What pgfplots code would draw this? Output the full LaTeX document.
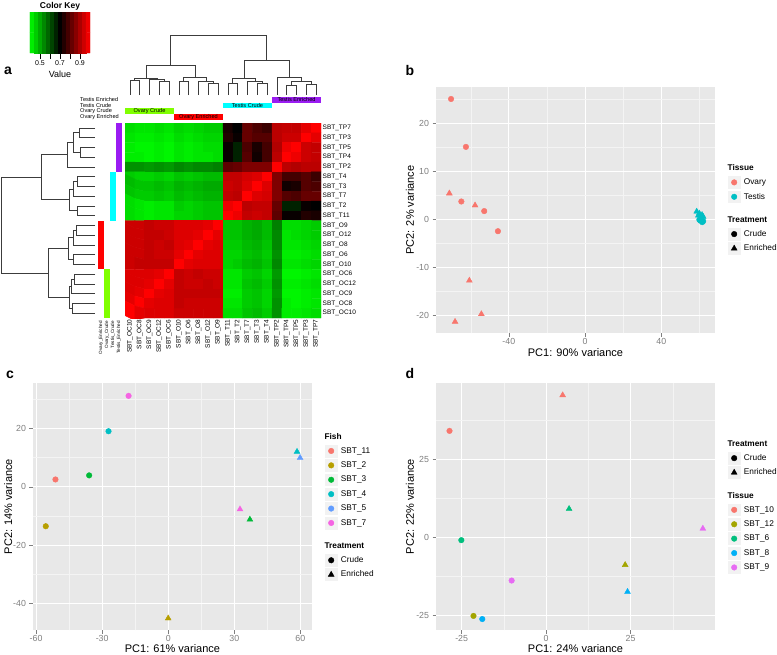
\documentclass[border=0pt]{standalone}
\usepackage{pgfplots}
\pgfplotsset{compat=1.18}
\usepackage{pgfplotstable}
\usepackage{fontspec}
\setmainfont{Liberation Sans}

\definecolor{ggbg}{HTML}{E8E8E8}
\definecolor{ggminor}{HTML}{F4F4F4}
\definecolor{ggtick}{HTML}{7F7F7F}
\definecolor{keybg}{HTML}{F2F2F2}
\definecolor{cA}{HTML}{F8766D}
\definecolor{cB}{HTML}{B79F00}
\definecolor{cC}{HTML}{00BA38}
\definecolor{cD}{HTML}{00BFC4}
\definecolor{cE}{HTML}{619CFF}
\definecolor{cF}{HTML}{F564E3}
\definecolor{dA}{HTML}{F8766D}
\definecolor{dB}{HTML}{A3A500}
\definecolor{dC}{HTML}{00BF7D}
\definecolor{dD}{HTML}{00B0F6}
\definecolor{dE}{HTML}{E76BF3}
\definecolor{hmlime}{HTML}{80FF00}
\definecolor{hmred}{HTML}{FF0000}
\definecolor{hmcyan}{HTML}{00FFFF}
\definecolor{hmpurple}{HTML}{9A1CF2}
\definecolor{dendcol}{HTML}{3C3C3C}

\pgfplotstableread{
h p
0 0
16 0
16 1
0 1
nan nan
0 2
15 2
15 3
0 3
nan nan
16 0.5
22 0.5
22 2.5
15 2.5
nan nan
22 1.5
28 1.5
28 4
0 4
nan nan
0 5
18 5
18 6
0 6
nan nan
18 5.5
22 5.5
22 7
0 7
nan nan
0 8
18 8
18 9
0 9
nan nan
22 6.25
26 6.25
26 8.5
18 8.5
nan nan
28 2.75
54 2.75
54 7.375
26 7.375
nan nan
0 10
19 10
19 11
0 11
nan nan
19 10.5
22 10.5
22 12
0 12
nan nan
0 13
22 13
22 14
0 14
nan nan
22 11.25
27 11.25
27 13.5
22 13.5
nan nan
0 15
21 15
21 16
0 16
nan nan
21 15.5
24 15.5
24 17
0 17
nan nan
0 18
23 18
23 19
0 19
nan nan
24 16.25
26 16.25
26 18.5
23 18.5
nan nan
27 12.375
47 12.375
47 17.375
26 17.375
nan nan
54 5.0625
94 5.0625
94 14.875
47 14.875
}\dendro

\pgfplotsset{
  ggaxis/.style={scale only axis, anchor=north west,
    axis background/.style={fill=ggbg},
    axis line style={draw=none},
    grid=both,
    major grid style={white, line width=0.7pt},
    minor grid style={ggminor, line width=0.35pt},
    tick align=outside, major tick length=3.5pt, minor tick length=0pt,
    tick style={ggtick, line width=0.5pt},
    xtick pos=left, ytick pos=left,
    ticklabel style={font=\fontsize{8.8}{10}\selectfont, text=ggtick},
    xticklabel style={inner sep=1.5pt},
    label style={font=\fontsize{11}{13}\selectfont},
    /pgf/number format/assume math mode=true,
    legend cell align=left,
    legend style={draw=none, fill=none, inner sep=0pt, outer sep=0pt,
      row sep=0pt, column sep=0pt, anchor=west,
      nodes={inner xsep=2.5pt, inner ysep=0pt, minimum height=13.8pt,
        font=\fontsize{8.3}{10}\selectfont, text=black}},
  },
  keyimg/.style={legend image code/.code={
      \fill[keybg, draw=white, line width=0.6pt] (0pt,-6.9pt) rectangle (13.8pt,6.9pt);
      \draw[only marks] plot coordinates {(6.9pt,0pt)};}},
  titleimg/.style={legend image code/.code={\path[draw=none,fill=none] (0pt,-6.9pt) rectangle (0pt,6.9pt);}},
  gaptitleimg/.style={legend image code/.code={\path[draw=none,fill=none] (0pt,-6.9pt) rectangle (0pt,16pt);}},
  circ/.style={only marks, mark=*, mark size=2.8pt, forget plot},
  tri/.style={only marks, mark=triangle*, mark size=3.4pt, forget plot},
  hmmap/.style={colormap={gr}{rgb255=(0,255,0) rgb255=(0,0,0) rgb255=(255,0,0)},
    point meta min=0.4, point meta max=1.0},
}

\begin{document}
\begin{tikzpicture}
\useasboundingbox (0pt,0pt) rectangle (777pt,-654pt);
\fill[white] (0pt,0pt) rectangle (777pt,-654pt);

% ---------- overlay in pixel units: side colours, labels ----------
\begin{axis}[at={(0pt,0pt)}, anchor=north west, scale only axis,
  width=777pt, height=654pt, xmin=0, xmax=777, ymin=0, ymax=654,
  y dir=reverse, hide axis, clip=false]
\addplot[fill=hmpurple, draw=none] coordinates {(116,123) (122,123) (122,171.75) (116,171.75)} --cycle;
\addplot[fill=hmcyan, draw=none] coordinates {(110,171.75) (116,171.75) (116,220.5) (110,220.5)} --cycle;
\addplot[fill=hmred, draw=none] coordinates {(98,220.5) (104,220.5) (104,269.25) (98,269.25)} --cycle;
\addplot[fill=hmlime, draw=none] coordinates {(104,269.25) (110,269.25) (110,318) (104,318)} --cycle;
\addplot[fill=hmlime, draw=none] coordinates {(125,108.3) (174,108.3) (174,113.6) (125,113.6)} --cycle;
\addplot[fill=hmred, draw=none] coordinates {(174,114) (223,114) (223,119.7) (174,119.7)} --cycle;
\addplot[fill=hmcyan, draw=none] coordinates {(223,102.7) (272,102.7) (272,108.3) (223,108.3)} --cycle;
\addplot[fill=hmpurple, draw=none] coordinates {(272,96.8) (321,96.8) (321,102.5) (272,102.5)} --cycle;
\node[font=\bfseries\fontsize{8.5}{10}\selectfont, inner sep=0pt] at (axis cs:60,6.5) {Color Key};
\begin{scope}[every node/.style={font=\fontsize{5.6}{6}\selectfont, inner sep=0pt}]
\node at (axis cs:149.5,111) {Ovary Crude};
\node at (axis cs:198.5,117) {Ovary Enriched};
\node at (axis cs:247.5,105.5) {Testis Crude};
\node at (axis cs:296.5,99.7) {Testis Enriched};
\node[anchor=west] at (axis cs:80,99.5) {Testis Enriched};
\node[anchor=west] at (axis cs:80,105.5) {Testis Crude};
\node[anchor=west] at (axis cs:80,111.3) {Ovary Crude};
\node[anchor=west] at (axis cs:80,117.2) {Ovary Enriched};
\end{scope}
\begin{scope}[every node/.style={font=\fontsize{4.6}{5}\selectfont, inner sep=0pt, rotate=90, anchor=east}]
\node at (axis cs:101,321) {Ovary\_Enriched};
\node at (axis cs:107,321) {Ovary\_Crude};
\node at (axis cs:113,321) {Testis\_Crude};
\node at (axis cs:119,321) {Testis\_Enriched};
\end{scope}
\end{axis}

% ---------- colour key ----------
\begin{axis}[at={(30pt,-12pt)}, anchor=north west, scale only axis,
  width=60pt, height=41pt, xmin=0.4, xmax=1.0, ymin=-0.5, ymax=1.5,
  hmmap, enlargelimits=false,
  axis line style={draw=none}, ytick=\empty,
  xtick={0.5,0.6,0.7,0.8,0.9}, xticklabels={0.5,,0.7,,0.9},
  xtick pos=left, tick align=outside, major tick length=5.5pt,
  tick style={black, line width=0.5pt},
  xticklabel style={font=\fontsize{7}{8}\selectfont, inner sep=1.5pt},
  xlabel={Value},
  xlabel style={font=\fontsize{9}{10}\selectfont, inner sep=0pt, at={(axis description cs:0.5,-0.51)}, anchor=center}]
\addplot[matrix plot*, mesh/cols=15, point meta=x] coordinates {
(0.42,0) (0.46,0) (0.50,0) (0.54,0) (0.58,0) (0.62,0) (0.66,0) (0.70,0) (0.74,0) (0.78,0) (0.82,0) (0.86,0) (0.90,0) (0.94,0) (0.98,0)
(0.42,1) (0.46,1) (0.50,1) (0.54,1) (0.58,1) (0.62,1) (0.66,1) (0.70,1) (0.74,1) (0.78,1) (0.82,1) (0.86,1) (0.90,1) (0.94,1) (0.98,1)};
\end{axis}

% ---------- heatmap ----------
\begin{axis}[at={(125pt,-123pt)}, anchor=north west, scale only axis,
  width=196pt, height=195pt, xmin=-0.5, xmax=19.5, ymin=-0.5, ymax=19.5,
  y dir=reverse, enlargelimits=false,
  axis line style={draw=none}, major tick length=0pt, tick style={draw=none},
  xtick={0,...,19}, ytick={0,...,19}, yticklabel pos=right,
  xticklabels={SBT\_OC10,SBT\_OC8,SBT\_OC9,SBT\_OC12,SBT\_OC6,SBT\_O10,SBT\_O6,SBT\_O8,SBT\_O12,SBT\_O9,SBT\_T11,SBT\_T2,SBT\_T7,SBT\_T3,SBT\_T4,SBT\_TP2,SBT\_TP4,SBT\_TP5,SBT\_TP3,SBT\_TP7},
  yticklabels={SBT\_TP7,SBT\_TP3,SBT\_TP5,SBT\_TP4,SBT\_TP2,SBT\_T4,SBT\_T3,SBT\_T7,SBT\_T2,SBT\_T11,SBT\_O9,SBT\_O12,SBT\_O8,SBT\_O6,SBT\_O10,SBT\_OC6,SBT\_OC12,SBT\_OC9,SBT\_OC8,SBT\_OC10},
  x tick label style={rotate=90, anchor=east, font=\fontsize{6.5}{7}\selectfont, inner sep=1.5pt},
  y tick label style={anchor=west, font=\fontsize{6.5}{7}\selectfont, inner sep=1.5pt},
  hmmap]
\addplot[matrix plot*, mesh/cols=20, point meta=explicit]
table[row sep=\\, x expr={mod(\coordindex,20)}, y expr={floor(\coordindex/20)}, meta=v] {
v\\
0.44\\0.43\\0.43\\0.44\\0.43\\0.45\\0.44\\0.45\\0.46\\0.46\\0.73\\0.70\\0.82\\0.79\\0.77\\0.92\\0.93\\0.93\\0.97\\1.00\\
0.43\\0.42\\0.42\\0.43\\0.42\\0.44\\0.43\\0.44\\0.45\\0.45\\0.74\\0.71\\0.82\\0.80\\0.80\\0.92\\0.94\\0.94\\1.00\\0.97\\
0.42\\0.41\\0.41\\0.42\\0.41\\0.43\\0.42\\0.43\\0.44\\0.44\\0.71\\0.66\\0.79\\0.73\\0.78\\0.91\\0.98\\1.00\\0.94\\0.93\\
0.42\\0.42\\0.41\\0.42\\0.41\\0.43\\0.42\\0.43\\0.43\\0.44\\0.71\\0.66\\0.80\\0.72\\0.78\\0.92\\1.00\\0.98\\0.94\\0.93\\
0.53\\0.53\\0.52\\0.53\\0.52\\0.54\\0.53\\0.54\\0.54\\0.55\\0.81\\0.82\\0.85\\0.85\\0.85\\1.00\\0.92\\0.91\\0.92\\0.92\\
0.46\\0.45\\0.45\\0.46\\0.45\\0.47\\0.46\\0.47\\0.48\\0.48\\0.93\\0.93\\0.95\\0.96\\1.00\\0.85\\0.78\\0.78\\0.80\\0.77\\
0.48\\0.47\\0.47\\0.48\\0.47\\0.49\\0.48\\0.49\\0.50\\0.50\\0.94\\0.93\\0.96\\1.00\\0.96\\0.85\\0.72\\0.73\\0.80\\0.79\\
0.47\\0.46\\0.46\\0.47\\0.46\\0.48\\0.47\\0.48\\0.49\\0.49\\0.93\\0.92\\1.00\\0.96\\0.95\\0.85\\0.80\\0.79\\0.82\\0.82\\
0.44\\0.43\\0.42\\0.43\\0.43\\0.46\\0.45\\0.46\\0.47\\0.47\\0.98\\1.00\\0.92\\0.93\\0.93\\0.82\\0.66\\0.66\\0.71\\0.70\\
0.44\\0.43\\0.42\\0.43\\0.43\\0.45\\0.45\\0.46\\0.47\\0.47\\1.00\\0.98\\0.93\\0.94\\0.93\\0.81\\0.71\\0.71\\0.74\\0.73\\
0.94\\0.94\\0.93\\0.94\\0.94\\0.96\\0.96\\0.96\\0.97\\1.00\\0.47\\0.47\\0.49\\0.50\\0.48\\0.55\\0.44\\0.44\\0.45\\0.46\\
0.94\\0.94\\0.93\\0.93\\0.94\\0.96\\0.96\\0.97\\1.00\\0.97\\0.47\\0.47\\0.49\\0.50\\0.48\\0.54\\0.43\\0.44\\0.45\\0.46\\
0.94\\0.94\\0.93\\0.94\\0.93\\0.96\\0.97\\1.00\\0.97\\0.96\\0.46\\0.46\\0.48\\0.49\\0.47\\0.54\\0.43\\0.43\\0.44\\0.45\\
0.94\\0.94\\0.93\\0.94\\0.94\\0.97\\1.00\\0.97\\0.96\\0.96\\0.45\\0.45\\0.47\\0.48\\0.46\\0.53\\0.42\\0.42\\0.43\\0.44\\
0.94\\0.93\\0.93\\0.93\\0.93\\1.00\\0.97\\0.96\\0.96\\0.96\\0.45\\0.46\\0.48\\0.49\\0.47\\0.54\\0.43\\0.43\\0.44\\0.45\\
0.96\\0.96\\0.96\\0.97\\1.00\\0.93\\0.94\\0.93\\0.94\\0.94\\0.43\\0.43\\0.46\\0.47\\0.45\\0.52\\0.41\\0.41\\0.42\\0.43\\
0.96\\0.96\\0.97\\1.00\\0.97\\0.93\\0.94\\0.94\\0.93\\0.94\\0.43\\0.43\\0.47\\0.48\\0.46\\0.53\\0.42\\0.42\\0.43\\0.44\\
0.96\\0.97\\1.00\\0.97\\0.96\\0.93\\0.93\\0.93\\0.93\\0.93\\0.42\\0.42\\0.46\\0.47\\0.45\\0.52\\0.41\\0.41\\0.42\\0.43\\
0.97\\1.00\\0.97\\0.96\\0.96\\0.93\\0.94\\0.94\\0.94\\0.94\\0.43\\0.43\\0.46\\0.47\\0.45\\0.53\\0.42\\0.41\\0.42\\0.43\\
1.00\\0.97\\0.96\\0.96\\0.96\\0.94\\0.94\\0.94\\0.94\\0.94\\0.44\\0.44\\0.47\\0.48\\0.46\\0.53\\0.42\\0.42\\0.43\\0.44\\
};
\end{axis}

% ---------- row dendrogram ----------
\begin{axis}[at={(1pt,-123pt)}, anchor=north west, scale only axis,
  width=94pt, height=195pt, xmin=0, xmax=94, x dir=reverse,
  ymin=-0.5, ymax=19.5, y dir=reverse, hide axis, clip=false,
  unbounded coords=jump]
\addplot[dendcol, line width=0.6pt] table[x=h, y=p] {\dendro};
\end{axis}

% ---------- column dendrogram ----------
\begin{axis}[at={(125pt,-35pt)}, anchor=north west, scale only axis,
  width=196pt, height=60pt, xmin=-0.5, xmax=19.5, x dir=reverse,
  ymin=0, ymax=94, hide axis, clip=false, unbounded coords=jump]
\addplot[dendcol, line width=0.6pt] table[x=p, y=h] {\dendro};
\end{axis}

% ---------- panel b ----------
\begin{axis}[ggaxis, at={(436pt,-87pt)}, width=279pt, height=246pt,
  xmin=-78.2, xmax=68.2, ymin=-23.75, ymax=27.6,
  xtick={-40,0,40}, minor xtick={-60,-20,20,60},
  ytick={-20,-10,0,10,20}, minor ytick={-15,-5,5,15,25},
  xlabel={PC1: 90\% variance}, ylabel={PC2: 2\% variance},
  xlabel style={at={(axis description cs:0.5,-0.0813)}, anchor=center},
  ylabel style={at={(axis description cs:-0.093,0.5)}, anchor=center},
  legend style={at={(axis description cs:1.043,0.506)}}]
\addplot[circ, cA] coordinates {(-70.3,25.1) (-62.5,15.1) (-64.9,3.7) (-52.9,1.7) (-45.7,-2.5)};
\addplot[tri, cA] coordinates {(-71.2,5.4) (-57.7,2.9) (-60.7,-12.8) (-54.4,-19.8) (-68.2,-21.4)};
\addplot[circ, cD] coordinates {(60.5,-0.3) (61.5,-0.6) (60.0,-0.1) (62.0,-0.4) (61.0,0.2)};
\addplot[tri, cD] coordinates {(58.6,1.6) (60.0,1.2) (61.4,0.9) (62.0,0.5) (59.5,0.8)};
\addlegendimage{titleimg}\addlegendentry{\hspace*{-16.3pt}\textbf{Tissue}}
\addlegendimage{keyimg, mark=*, cA, mark size=2.8pt}\addlegendentry{Ovary}
\addlegendimage{keyimg, mark=*, cD, mark size=2.8pt}\addlegendentry{Testis}
\addlegendimage{gaptitleimg}\addlegendentry{\hspace*{-16.3pt}\textbf{Treatment}}
\addlegendimage{keyimg, mark=*, black, mark size=2.8pt}\addlegendentry{Crude}
\addlegendimage{keyimg, mark=triangle*, black, mark size=3.4pt}\addlegendentry{Enriched}
\end{axis}

% ---------- panel c ----------
\begin{axis}[ggaxis, at={(33pt,-383.3pt)}, width=279pt, height=246.7pt,
  xmin=-61.4, xmax=65.3, ymin=-49.0, ymax=35.4,
  xtick={-60,-30,0,30,60}, minor xtick={-45,-15,15,45},
  ytick={-40,-20,0,20}, minor ytick={-30,-10,10,30},
  xlabel={PC1: 61\% variance}, ylabel={PC2: 14\% variance},
  xlabel style={at={(axis description cs:0.5,-0.077)}, anchor=center},
  ylabel style={at={(axis description cs:-0.0885,0.5)}, anchor=center},
  legend style={at={(axis description cs:1.043,0.503)}}]
\addplot[circ, cA] coordinates {(-51.2,2.5)};
\addplot[circ, cB] coordinates {(-55.6,-13.5)};
\addplot[tri, cB] coordinates {(0,-45.0)};
\addplot[circ, cC] coordinates {(-35.9,3.9)};
\addplot[tri, cC] coordinates {(37.1,-11.2)};
\addplot[circ, cD] coordinates {(-27.1,19.0)};
\addplot[tri, cD] coordinates {(58.5,12.0)};
\addplot[tri, cE] coordinates {(59.9,9.9)};
\addplot[circ, cF] coordinates {(-18.0,31.1)};
\addplot[tri, cF] coordinates {(32.6,-7.7)};
\addlegendimage{titleimg}\addlegendentry{\hspace*{-16.3pt}\textbf{Fish}}
\addlegendimage{keyimg, mark=*, cA, mark size=2.8pt}\addlegendentry{SBT\_11}
\addlegendimage{keyimg, mark=*, cB, mark size=2.8pt}\addlegendentry{SBT\_2}
\addlegendimage{keyimg, mark=*, cC, mark size=2.8pt}\addlegendentry{SBT\_3}
\addlegendimage{keyimg, mark=*, cD, mark size=2.8pt}\addlegendentry{SBT\_4}
\addlegendimage{keyimg, mark=*, cE, mark size=2.8pt}\addlegendentry{SBT\_5}
\addlegendimage{keyimg, mark=*, cF, mark size=2.8pt}\addlegendentry{SBT\_7}
\addlegendimage{gaptitleimg}\addlegendentry{\hspace*{-16.3pt}\textbf{Treatment}}
\addlegendimage{keyimg, mark=*, black, mark size=2.8pt}\addlegendentry{Crude}
\addlegendimage{keyimg, mark=triangle*, black, mark size=3.4pt}\addlegendentry{Enriched}
\end{axis}

% ---------- panel d ----------
\begin{axis}[ggaxis, at={(436pt,-383.3pt)}, width=279pt, height=246.7pt,
  xmin=-32.6, xmax=50.0, ymin=-29.6, ymax=49.2,
  xtick={-25,0,25}, minor xtick={-12.5,12.5,37.5},
  ytick={-25,0,25}, minor ytick={-12.5,12.5,37.5},
  xlabel={PC1: 24\% variance}, ylabel={PC2: 22\% variance},
  xlabel style={at={(axis description cs:0.5,-0.077)}, anchor=center},
  ylabel style={at={(axis description cs:-0.093,0.5)}, anchor=center},
  legend style={at={(axis description cs:1.043,0.503)}}]
\addplot[circ, dA] coordinates {(-28.6,34.0)};
\addplot[tri, dA] coordinates {(4.9,45.4)};
\addplot[circ, dB] coordinates {(-21.5,-25.1)};
\addplot[tri, dB] coordinates {(23.4,-8.8)};
\addplot[circ, dC] coordinates {(-25.1,-0.9)};
\addplot[tri, dC] coordinates {(6.8,9.1)};
\addplot[circ, dD] coordinates {(-18.9,-26.1)};
\addplot[tri, dD] coordinates {(24.1,-17.4)};
\addplot[circ, dE] coordinates {(-10.2,-13.8)};
\addplot[tri, dE] coordinates {(46.4,2.8)};
\addlegendimage{titleimg}\addlegendentry{\hspace*{-16.3pt}\textbf{Treatment}}
\addlegendimage{keyimg, mark=*, black, mark size=2.8pt}\addlegendentry{Crude}
\addlegendimage{keyimg, mark=triangle*, black, mark size=3.4pt}\addlegendentry{Enriched}
\addlegendimage{gaptitleimg}\addlegendentry{\hspace*{-16.3pt}\textbf{Tissue}}
\addlegendimage{keyimg, mark=*, dA, mark size=2.8pt}\addlegendentry{SBT\_10}
\addlegendimage{keyimg, mark=*, dB, mark size=2.8pt}\addlegendentry{SBT\_12}
\addlegendimage{keyimg, mark=*, dC, mark size=2.8pt}\addlegendentry{SBT\_6}
\addlegendimage{keyimg, mark=*, dD, mark size=2.8pt}\addlegendentry{SBT\_8}
\addlegendimage{keyimg, mark=*, dE, mark size=2.8pt}\addlegendentry{SBT\_9}
\end{axis}

% ---------- panel letters ----------
\begin{scope}[every node/.style={font=\bfseries\fontsize{14}{14}\selectfont, inner sep=0pt}]
\node at (8pt,-71pt) {a};
\node at (410pt,-70pt) {b};
\node at (10pt,-375pt) {c};
\node at (410pt,-373pt) {d};
\end{scope}
\end{tikzpicture}
\end{document}
